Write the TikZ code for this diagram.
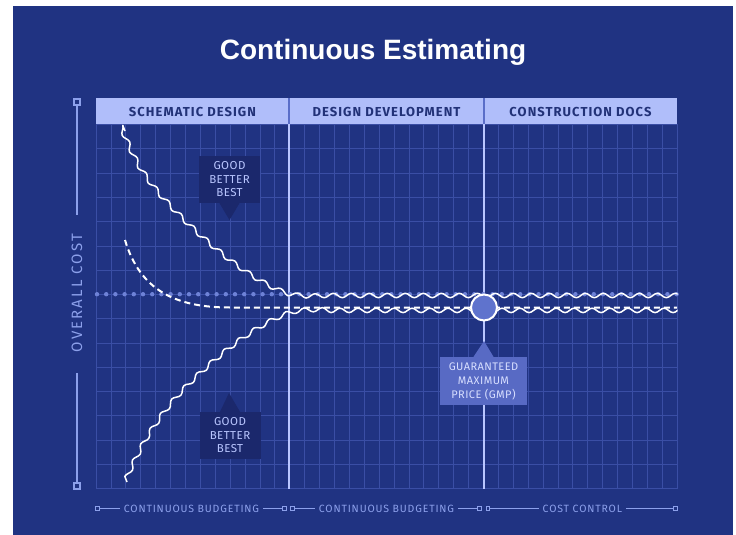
\documentclass[tikz,border=0pt]{standalone}
\usepackage{fontspec}
\setmainfont{Fira Sans}
\newfontfamily\titlefont{Liberation Sans}
\newfontfamily\hdrfont[LetterSpace=8]{Fira Sans}
\newfontfamily\lblfont[LetterSpace=8]{Fira Sans}
\newfontfamily\callfont[LetterSpace=4]{Fira Sans}
\newfontfamily\axfont[LetterSpace=14]{Fira Sans}
\usetikzlibrary{decorations.pathmorphing}
\definecolor{bgblue}{RGB}{32,51,130}
\definecolor{gridc}{RGB}{58,78,165}
\definecolor{hdrfill}{RGB}{176,190,250}
\definecolor{hdrtxt}{RGB}{34,50,120}
\definecolor{hdrdiv}{RGB}{90,110,200}
\definecolor{phasec}{RGB}{185,198,255}
\definecolor{axisc}{RGB}{140,160,235}
\definecolor{calldark}{RGB}{27,40,108}
\definecolor{calltxt}{RGB}{185,198,255}
\definecolor{gmpfill}{RGB}{88,106,196}
\definecolor{gmptxt}{RGB}{215,222,255}
\definecolor{dotc}{RGB}{110,130,215}
\definecolor{circfill}{RGB}{95,115,205}
\tikzset{
  gridline/.style={draw=gridc, line width=0.6pt},
  phaseline/.style={draw=phasec, line width=1.4pt},
  hdrlabel/.style={font=\hdrfont\bfseries\fontsize{13}{15}\selectfont, text=hdrtxt, inner sep=0pt},
  axisline/.style={draw=axisc, line width=1.5pt},
  axissq/.style={draw=axisc, line width=1.5pt, fill=bgblue, minimum size=6pt, inner sep=0pt},
  botsq/.style={draw=axisc, line width=1pt, fill=bgblue, minimum size=3.5pt, inner sep=0pt},
  botlabel/.style={font=\lblfont\fontsize{10.5}{12}\selectfont, text=axisc, inner xsep=4pt, inner ysep=0pt},
  botline/.style={draw=axisc, line width=1pt},
  wavy/.style={draw=white, line width=1.5pt, line join=round, decorate, decoration={snake, segment length=18pt, amplitude=2.2pt}},
  callbox/.style={fill=calldark, minimum width=61pt, minimum height=47pt, inner sep=0pt, align=center,
     font=\callfont\fontsize{11.5}{13.5}\selectfont, text=calltxt},
  gmpbox/.style={fill=gmpfill, minimum width=87pt, minimum height=48pt, inner sep=0pt, align=center,
     font=\callfont\fontsize{11}{14}\selectfont, text=gmptxt},
}
\begin{document}
\begin{tikzpicture}[x=1pt,y=-1pt]
\useasboundingbox (0,0) rectangle (736,535);
\fill[white] (0,0) rectangle (736,535);
\fill[bgblue] (13,6) rectangle (733,535);

% title
\node[font=\titlefont\bfseries\fontsize{28}{32}\selectfont, text=white] (title) at (373,52) {Continuous Estimating};

% grid
\foreach \i in {0,...,39} \draw[gridline] ({96+\i*14.897},124) -- ({96+\i*14.897},489);
\foreach \j in {0,...,15} \draw[gridline] (96,{124.5+\j*24.27}) -- (677,{124.5+\j*24.27});

% header
\fill[hdrfill] (96,98) rectangle (677,124);
\draw[draw=hdrdiv, line width=1.5pt] (289,98) -- (289,124) (484,98) -- (484,124);
\node[hdrlabel] (h1) at (192.5,111.5) {SCHEMATIC DESIGN};
\node[hdrlabel] (h2) at (386.5,111.5) {DESIGN DEVELOPMENT};
\node[hdrlabel] (h3) at (580.5,111.5) {CONSTRUCTION DOCS};

% phase lines
\draw[phaseline] (289,124) -- (289,489);
\draw[phaseline] (484,124) -- (484,489);

% dotted target line
\foreach \i in {0,...,63} \fill[dotc] ({97+\i*9.2},294.2) circle (2.2pt);

% dashed estimate
\draw[white, line width=2pt, dash pattern=on 6pt off 4pt]
  (125,240) .. controls (140,290) and (175,307.5) .. (230,307.5) -- (677,307.5);

% wavy bounds (clipped at the chart's right edge)
\begin{scope}
\clip (90,120) rectangle (677.5,495);
\draw[wavy] plot[smooth, tension=0.6] coordinates {(125,131) (147,177) (185,222) (240,270) (290,298.5) (330,301.3)} -- (720,301.3);
\draw[wavy] plot[smooth, tension=0.6] coordinates {(127,482) (150,437) (185,392) (240,344) (290,316.5) (330,314)} -- (720,314);
\end{scope}

% GMP circle
\node[circle, draw=white, line width=2pt, fill=circfill, minimum size=26pt, inner sep=0pt] (gmpc) at (484,307.5) {};

% callouts
\node[callbox] (cb1) at (229.5,179.5) {GOOD\\BETTER\\BEST};
\coordinate (cb1tip) at (229.5,220);
\fill[calldark] ([xshift=-10pt]cb1.south) -- (cb1tip) -- ([xshift=10pt]cb1.south) -- cycle;

\node[callbox] (cb2) at (230,435.5) {GOOD\\BETTER\\BEST};
\coordinate (cb2tip) at (229,393);
\fill[calldark] ([xshift=-10pt]cb2.north) -- (cb2tip) -- ([xshift=10pt]cb2.north) -- cycle;

\node[gmpbox] (gmp) at (483.5,381) {GUARANTEED\\MAXIMUM\\PRICE (GMP)};
\coordinate (gmptip) at (484,341);
\fill[gmpfill] ([xshift=-10pt]gmp.north) -- (gmptip) -- ([xshift=10pt]gmp.north) -- cycle;

% left axis
\node[axissq] (sqT) at (77,102) {};
\node[axissq] (sqB) at (77,486) {};
\coordinate (axT) at (77,215);
\coordinate (axB) at (77,373);
\draw[axisline] (sqT) -- (axT);
\draw[axisline] (axB) -- (sqB);
\node[rotate=90, font=\axfont\fontsize{15}{17}\selectfont, text=axisc] (ovc) at (77,293) {OVERALL COST};

% bottom phases
\node[botsq] (s1) at (97.5,508.7) {};
\node[botsq] (s2) at (284.5,508.7) {};
\node[botsq] (s3) at (292.6,508.7) {};
\node[botsq] (s4) at (479.6,508.7) {};
\node[botsq] (s5) at (487.8,508.7) {};
\node[botsq] (s6) at (675.5,508.7) {};
\node[botlabel] (b1) at (191.5,508.7) {CONTINUOUS BUDGETING};
\node[botlabel] (b2) at (386.5,508.7) {CONTINUOUS BUDGETING};
\node[botlabel] (b3) at (582.4,508.7) {COST CONTROL};
\draw[botline] (s1) -- (b1.west);
\draw[botline] (b1.east) -- (s2);
\draw[botline] (s3) -- (b2.west);
\draw[botline] (b2.east) -- (s4);
\draw[botline] (s5) -- (b3.west);
\draw[botline] (b3.east) -- (s6);
\end{tikzpicture}
\end{document}
